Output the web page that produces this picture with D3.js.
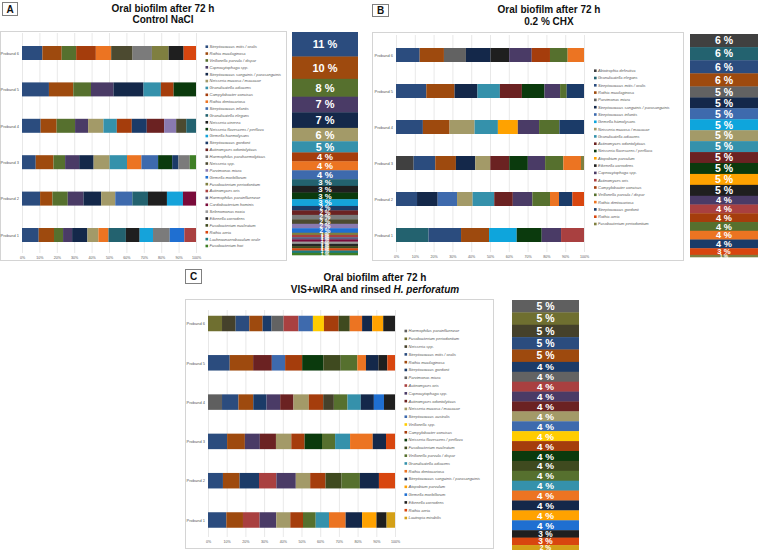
<!DOCTYPE html>
<html><head><meta charset="utf-8">
<script src="https://cdn.jsdelivr.net/npm/d3@7"></script>
<style>body{margin:0;background:#fff}svg{display:block}text{font-family:"Liberation Sans",Arial,sans-serif}</style>
</head><body><svg id="c" width="758" height="550"></svg>
<script>
// ---------- DATA ----------
const probands = ["Proband 6","Proband 5","Proband 4","Proband 3","Proband 2","Proband 1"];
const ticks = [0,10,20,30,40,50,60,70,80,90,100];

// Panel A: Control NaCl
const speciesA = ["Streptococcus mitis / oralis","Rothia mucilaginosa","Veillonella parvula / dispar","Capnocytophaga spp.","Streptococcus sanguinis / parasanguinis","Neisseria mucosa / macacae","Granulicatella adiacens","Campylobacter concisus","Rothia dentocariosa","Streptococcus infantis","Granulicatella elegans","Neisseria cinerea","Neisseria flavescens / perflava","Gemella haemolysans","Streptococcus gordonii","Actinomyces odontolyticus","Haemophilus parahaemolyticus","Neisseria spp.","Parvimonas micra","Gemella morbillorum","Fusobacterium periodontium","Actinomyces oris","Haemophilus parainfluenzae","Cardiobacterium hominis","Selenomonas noxia","Eikenella corrodens","Fusobacterium nucleatum","Rothia aeria","Lachnoanaerobaculum orale","Fusobacterium hwi"];
const meanA = [11,10,8,7,7,6,5,4,4,4,3,3,3,3,2,2,2,2,2,2,1,1,1,1,1,1,1,1,1,1];
// bars: [species index, percent], Proband 6 .. Proband 1
const barsA = [
  [[0,11.7],[1,11.1],[2,8.3],[7,11.3],[8,8.8],[17,12.3],[16,11.1],[20,9.6],[11,8.6],[27,7.1]],
  [[0,15.5],[1,14.0],[2,10.2],[3,12.9],[4,17.3],[6,10.0],[7,7.3],[12,12.9]],
  [[0,10.7],[1,9.2],[2,10.6],[3,7.5],[5,8.8],[6,7.7],[7,8.6],[14,8.6],[15,10.0],[18,6.9],[17,5.8],[10,5.6]],
  [[0,7.9],[1,10.2],[2,6.7],[3,8.1],[4,8.3],[5,9.2],[6,10.0],[8,8.3],[9,9.6],[12,8.1],[14,3.6],[16,6.5],[29,3.6]],
  [[0,10.4],[1,7.1],[2,8.8],[3,9.0],[4,10.2],[5,8.1],[9,9.8],[10,9.0],[11,10.9],[13,9.2],[23,7.5]],
  [[0,9.6],[1,8.8],[2,5.2],[3,5.2],[4,8.8],[5,6.3],[8,5.8],[10,10.0],[11,7.9],[13,7.7],[16,9.6],[19,8.4],[21,6.7]]
];

// Panel B: 0.2 % CHX
const speciesB = ["Abiotrophia defectiva","Granulicatella elegans","Streptococcus mitis / oralis","Rothia mucilaginosa","Parvimonas micra","Streptococcus sanguinis / parasanguinis","Streptococcus infantis","Gemella hämolysans","Neisseria mucosa / macacae","Granulicatella adiacens","Actinomyces odontolyticus","Neisseria flavescens / perflava","Atopobium parvulum","Eikenella corrodens","Capnocytophaga spp.","Actinomyces oris","Campylobacter concisus","Veillonella parvula / dispar","Rothia dentocariosa","Streptococcus gordonii","Rothia aeria","Fusobacterium periodontium"];
const meanB = [6,6,6,6,5,5,5,5,5,5,5,5,5,5,4,4,4,4,4,4,3,1];
const barsB = [
  [[2,12.6],[3,12.9],[4,11.7],[5,13.1],[13,9.9],[14,12.0],[16,9.7],[17,9.4],[18,8.7]],
  [[2,16.1],[3,15.0],[5,12.2],[9,11.9],[10,11.7],[11,12.0],[14,8.3],[17,3.5],[19,9.2]],
  [[2,14.3],[3,14.2],[8,13.3],[9,12.4],[12,10.6],[14,11.3],[17,10.8],[19,13.1]],
  [[0,9.4],[2,11.5],[3,11.0],[5,10.3],[8,8.0],[10,10.1],[11,9.9],[14,9.2],[17,9.7],[18,9.4],[21,1.6]],
  [[2,11.2],[5,11.0],[6,10.3],[8,8.3],[9,11.5],[10,9.9],[14,10.4],[17,9.4],[18,4.8],[19,7.1],[20,6.2]],
  [[1,17.3],[2,17.3],[3,14.9],[7,14.7],[11,13.3],[14,10.3],[15,12.2]]
];

// Panel C: VIS+wIRA and rinsed H. perforatum
const speciesC = ["Haemophilus parainfluenzae","Fusobacterium periodontium","Neisseria spp.","Streptococcus mitis / oralis","Rothia mucilaginosa","Streptococcus gordonii","Parvimonas micra","Actinomyces oris","Capnocytophaga spp.","Actinomyces odontolyticus","Neisseria mucosa / macacae","Streptococcus australis","Veillonella spp.","Campylobacter concisus","Neisseria flavescens / perflava","Fusobacterium nucleatum","Veillonella parvula / dispar","Granulicatella adiacens","Rothia dentocariosa","Streptococcus sanguinis / parasanguinis","Atopobium parvulum","Gemella morbillorum","Eikenella corrodens","Rothia aeria","Lautropia mirabilis"];
const meanC = [5,5,5,5,5,4,4,4,4,4,4,4,4,4,4,4,4,4,4,4,4,4,3,3,2];
const barsC = [
  [[1,7.5],[2,7.3],[3,7.3],[4,7.1],[5,4.8],[6,6.4],[7,8.0],[11,7.7],[12,5.9],[13,7.9],[15,5.9],[18,6.6],[19,5.4],[20,5.9],[22,6.3]],
  [[3,11.6],[4,12.5],[9,10.0],[11,7.1],[13,9.1],[14,11.3],[15,9.3],[16,8.9],[18,4.6],[19,6.6],[22,4.8],[23,4.1]],
  [[0,7.5],[3,8.8],[4,7.9],[5,7.1],[8,7.3],[9,7.1],[10,8.2],[13,7.7],[2,5.7],[16,7.3],[17,7.1],[19,7.0],[21,5.4],[22,5.9]],
  [[3,10.2],[4,9.5],[8,8.0],[9,8.6],[10,8.2],[13,7.1],[14,9.3],[16,7.0],[17,8.0],[18,12.1],[19,7.1],[23,4.8]],
  [[3,8.0],[4,8.9],[5,10.4],[7,9.3],[8,10.4],[10,7.7],[13,8.2],[15,8.6],[16,9.8],[19,10.2],[23,8.6]],
  [[3,9.8],[4,8.9],[7,8.9],[8,8.9],[10,7.5],[13,6.8],[16,6.8],[17,7.1],[18,8.9],[19,8.8],[20,7.7],[22,5.4],[24,4.5]]
];

// ---------- STYLES ----------
const colorsA = ["#2b4c7e","#9e4a0e","#56702e","#4a3b66","#14284a","#a39a68","#3591ab","#a53d0c","#ec7422","#3e6aad","#23626f","#1f1f1f","#0b3a0d","#15a3da","#1b3b68","#6b2222","#7b7b7b","#4c4a30","#8a7ab0","#1f6fd1","#7f7f40","#a94040","#5e5e80","#7a0b3a","#9a9a9a","#262626","#3f4a1f","#d8460f","#1e7b82","#3f7f26"];
const colorsB = ["#404040","#23626f","#2b4c7e","#9e4a0e","#626262","#14284a","#3e6aad","#0ea5dc","#a39a68","#3591ab","#6b2222","#0b3a0d","#ffa200","#1f1f1f","#4a3b66","#a94040","#a53d0c","#56702e","#ec7422","#1b3b68","#d8460f","#7f7f40"];
const colorsC = ["#5f5f5f","#6f6f30","#45412b","#2b4c7e","#9e4a0e","#1b3b68","#636363","#a94040","#4a3b66","#6b2222","#a39a68","#3e6aad","#ffcc00","#a53d0c","#0b3a0d","#3f4a1f","#56702e","#3591ab","#ec7422","#14284a","#ffa200","#1f6fd1","#1f1f1f","#d8460f","#d4a017"];

const svg = d3.select("#c");
svg.append("rect").attr("width",758).attr("height",550).attr("fill","#fff");

function drawPanel(cfg){
  const g = svg.append("g");
  // label box
  g.append("rect").attr("x",cfg.lab[0]+0.5).attr("y",cfg.lab[1]+0.5).attr("width",cfg.lab[2]).attr("height",cfg.lab[3])
    .attr("fill","#fff").attr("stroke","#808080").attr("stroke-width",1);
  g.append("text").attr("x",cfg.lab[0]+cfg.lab[2]/2+0.5).attr("y",cfg.lab[1]+cfg.lab[3]/2+4)
    .attr("text-anchor","middle").attr("font-weight","bold").attr("font-size",10).attr("fill","#111").text(cfg.letter);
  // title
  const t = g.append("text").attr("text-anchor","middle").attr("font-weight","bold").attr("font-size",10).attr("fill","#111");
  t.append("tspan").attr("x",cfg.titleX).attr("y",cfg.titleY[0]).text("Oral biofilm after 72 h");
  const t2 = t.append("tspan").attr("x",cfg.titleX).attr("y",cfg.titleY[1]);
  cfg.sub.forEach(s=>t2.append("tspan").attr("font-style",s[1]?"italic":null).text(s[0]));
  // chart box
  const b = cfg.box;
  g.append("rect").attr("x",b[0]+0.5).attr("y",b[1]+0.5).attr("width",b[2]-b[0]).attr("height",b[3]-b[1])
    .attr("fill","#fff").attr("stroke","#d4d4d4");
  const x = d3.scaleLinear().domain([0,100]).range([cfg.px[0],cfg.px[1]]);
  const y = d3.scalePoint().domain(probands).range([cfg.py[0],cfg.py[1]]);
  // grid + ticks
  const ax = g.append("g").attr("transform",`translate(0,${cfg.grid[1]})`)
    .call(d3.axisBottom(x).tickValues(ticks).tickSize(-(cfg.grid[1]-cfg.grid[0])).tickPadding(3).tickFormat(d=>d+"%"));
  ax.select(".domain").remove();
  ax.selectAll(".tick line").attr("stroke","#d9d9d9").attr("stroke-width",0.6);
  ax.selectAll(".tick text").attr("font-size",3.6).attr("fill","#595959").attr("font-family","Liberation Sans, Arial, sans-serif");
  // proband labels
  const ay = g.append("g").attr("transform",`translate(${cfg.px[0]},0)`).call(d3.axisLeft(y).tickSize(0).tickPadding(3));
  ay.select(".domain").remove();
  ay.selectAll(".tick text").attr("font-size",4).attr("fill","#595959").attr("font-family","Liberation Sans, Arial, sans-serif");
  // bars
  probands.forEach((p,i)=>{
    const segs = cfg.bars[i];
    const tot = d3.sum(segs,d=>d[1]);
    let cum = 0;
    const data = segs.map(([k,v])=>{const d={k,a:cum/tot*100,b:(cum+v)/tot*100}; cum+=v; return d;});
    g.append("g").selectAll("rect").data(data).join("rect")
      .attr("x",d=>x(d.a)).attr("width",d=>x(d.b)-x(d.a))
      .attr("y",y(p)-cfg.bh/2).attr("height",cfg.bh)
      .attr("fill",d=>cfg.colors[d.k]);
  });
  // legend
  const ly = d3.scalePoint().domain(d3.range(cfg.species.length)).range([cfg.leg[1],cfg.leg[2]]);
  const lg = g.append("g");
  lg.selectAll("rect").data(cfg.species).join("rect")
    .attr("x",cfg.leg[0]).attr("y",(d,i)=>ly(i)-1.3).attr("width",2.6).attr("height",2.6)
    .attr("fill",(d,i)=>cfg.colors[i]);
  lg.selectAll("text").data(cfg.species).join("text")
    .attr("x",cfg.leg[0]+4).attr("y",(d,i)=>ly(i)+1.4).attr("font-size",4).attr("font-style","italic")
    .attr("fill","#595959").text(d=>d);
  // mean column
  const tot = d3.sum(cfg.mean);
  const cy = d3.scaleLinear().domain([0,tot]).range([cfg.col[1],cfg.col[3]]);
  let c = 0;
  const cd = cfg.mean.map((v,i)=>{const d={i,v,a:c,b:c+v}; c+=v; return d;});
  const cg = g.append("g");
  cg.selectAll("rect").data(cd).join("rect")
    .attr("x",cfg.col[0]).attr("width",cfg.col[2]-cfg.col[0])
    .attr("y",d=>cy(d.a)).attr("height",d=>cy(d.b)-cy(d.a)+0.3)
    .attr("fill",d=>cfg.colors[d.i]);
  cg.selectAll("text").data(cd).join("text")
    .attr("x",(cfg.col[0]+cfg.col[2])/2)
    .attr("y",d=>(cy(d.a)+cy(d.b))/2)
    .attr("dy","0.36em").attr("text-anchor","middle").attr("font-weight","bold").attr("fill","#fff")
    .attr("font-size",d=>Math.min(cfg.maxFont, 3.5+(cy(d.b)-cy(d.a))*0.65))
    .text(d=>d.v+" %");
}

drawPanel({letter:"A", lab:[2,2,15,13], titleX:163, titleY:[11.5,23], sub:[["Control NaCl",false]],
  box:[0,31,286,260], px:[22,196], py:[53,235], grid:[33,253], bh:14,
  bars:barsA, species:speciesA, colors:colorsA, mean:meanA, leg:[205.5,46.7,246], col:[292,32,358,255], maxFont:11});
drawPanel({letter:"B", lab:[372,4,16,12], titleX:549, titleY:[13,25], sub:[["0.2 % CHX",false]],
  box:[372,32,683,260], px:[396,584], py:[55,235], grid:[35,252], bh:14,
  bars:barsB, species:speciesB, colors:colorsB, mean:meanB, leg:[594,70.7,224], col:[690,34,758,257], maxFont:10.5});
drawPanel({letter:"C", lab:[185,269,16,14], titleX:375, titleY:[281,293], sub:[["VIS+wIRA and rinsed ",false],["H. perforatum",true]],
  box:[185,299,493,548], px:[208,395], py:[323.5,520], grid:[310,537], bh:15.5,
  bars:barsC, species:speciesC, colors:colorsC, mean:meanC, leg:[404.5,331,518], col:[512,300,579,550], maxFont:10.5});
</script></body></html>
